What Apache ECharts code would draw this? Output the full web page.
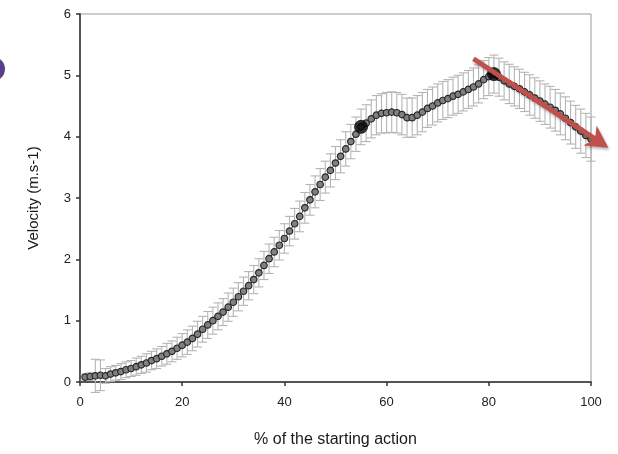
<!DOCTYPE html>
<html>
<head>
<meta charset="utf-8">
<script src="https://cdn.jsdelivr.net/npm/echarts@6/dist/echarts.min.js"></script>
<style>html,body{margin:0;padding:0;background:#fff;}#c{width:618px;height:454px;}</style>
</head>
<body>
<div id="c"></div>
<script>
// % of the starting action
const pct = [];
for (let i = 1; i <= 100; i++) pct.push(i);
// Mean velocity (m.s-1)
const velocity = [
  0.08, 0.09, 0.10, 0.11, 0.10, 0.13, 0.15, 0.17, 0.20, 0.22,
  0.25, 0.28, 0.31, 0.35, 0.38, 0.42, 0.46, 0.50, 0.55, 0.60,
  0.65, 0.71, 0.78, 0.86, 0.93, 1.00, 1.07, 1.14, 1.22, 1.30,
  1.39, 1.48, 1.57, 1.67, 1.78, 1.90, 2.01, 2.12, 2.23, 2.34,
  2.46, 2.58, 2.70, 2.84, 2.97, 3.10, 3.22, 3.34, 3.45, 3.57,
  3.68, 3.80, 3.92, 4.04, 4.16, 4.22, 4.29, 4.35, 4.38, 4.39,
  4.40, 4.39, 4.36, 4.31, 4.31, 4.35, 4.40, 4.46, 4.50, 4.55,
  4.59, 4.62, 4.66, 4.69, 4.73, 4.77, 4.81, 4.86, 4.93, 4.98,
  5.02, 4.97, 4.91, 4.86, 4.82, 4.78, 4.73, 4.68, 4.63, 4.58,
  4.53, 4.48, 4.43, 4.37, 4.30, 4.23, 4.16, 4.09, 4.02, 3.96
];
// Standard deviation (m.s-1)
const sd = [
  0.05, 0.06, 0.27, 0.25, 0.12, 0.12, 0.12, 0.13, 0.13, 0.13,
  0.14, 0.14, 0.15, 0.15, 0.16, 0.16, 0.17, 0.17, 0.18, 0.19,
  0.20, 0.20, 0.21, 0.21, 0.22, 0.22, 0.22, 0.22, 0.23, 0.23,
  0.23, 0.23, 0.23, 0.23, 0.23, 0.23, 0.24, 0.24, 0.24, 0.24,
  0.24, 0.25, 0.25, 0.25, 0.25, 0.26, 0.26, 0.26, 0.27, 0.27,
  0.27, 0.28, 0.28, 0.28, 0.29, 0.30, 0.31, 0.32, 0.32, 0.33,
  0.33, 0.33, 0.33, 0.32, 0.32, 0.32, 0.32, 0.31, 0.31, 0.31,
  0.31, 0.31, 0.31, 0.31, 0.31, 0.31, 0.31, 0.31, 0.31, 0.31,
  0.31, 0.31, 0.31, 0.32, 0.32, 0.32, 0.32, 0.33, 0.33, 0.33,
  0.33, 0.34, 0.34, 0.34, 0.35, 0.35, 0.35, 0.36, 0.36, 0.36
];
// Highlighted instants (% of action)
const keyPoints = [55, 81];
// Axis ticks
const xTicks = [0, 20, 40, 60, 80, 100];
const yTicks = [0, 1, 2, 3, 4, 5, 6];
// Trend arrow annotation [x, y] (data units)
const arrowFrom = [77, 5.27];
const arrowTo = [103.4, 3.82];

const meanData = pct.map((x, i) => [x, velocity[i]]);
const errData = pct.map((x, i) => [x, velocity[i] - sd[i], velocity[i] + sd[i]]);
const keyData = keyPoints.map(x => [x, velocity[pct.indexOf(x)]]);

const chart = echarts.init(document.getElementById('c'));
const font = '"Liberation Sans", Arial, sans-serif';
chart.setOption({
  backgroundColor: '#fff',
  animation: false,
  grid: { left: 80, right: 27, top: 14, bottom: 72, show: true, borderColor: '#9a9a9a', borderWidth: 1 },
  xAxis: {
    type: 'value', min: 0, max: 100, interval: 20,
    name: '% of the starting action', nameLocation: 'middle', nameGap: 50,
    nameTextStyle: { fontFamily: font, fontSize: 16, color: '#1a1a1a' },
    axisLine: { show: true, lineStyle: { color: '#555', width: 2 } },
    axisTick: { show: true, length: 4, lineStyle: { color: '#333', width: 1.5 } },
    axisLabel: { fontFamily: font, fontSize: 13, color: '#222', margin: 14,
      formatter: v => xTicks.includes(v) ? String(v) : '' },
    splitLine: { show: false }
  },
  yAxis: {
    type: 'value', min: 0, max: 6, interval: 1,
    name: 'Velocity (m.s-1)', nameLocation: 'middle', nameGap: 39,
    nameTextStyle: { fontFamily: font, fontSize: 15, color: '#1a1a1a' },
    axisLine: { show: true, lineStyle: { color: '#555', width: 2 } },
    axisTick: { show: true, length: 4, lineStyle: { color: '#333', width: 1.5 } },
    axisLabel: { fontFamily: font, fontSize: 13, color: '#222', margin: 9,
      formatter: v => yTicks.includes(v) ? String(v) : '' },
    splitLine: { show: false }
  },
  series: [
    {
      type: 'custom', z: 1,
      data: errData,
      renderItem: function (params, api) {
        const x = api.value(0);
        const lo = api.coord([x, api.value(1)]);
        const hi = api.coord([x, api.value(2)]);
        const w = 4.5;
        const st = { stroke: '#b5b5b5', lineWidth: 1.1 };
        return { type: 'group', children: [
          { type: 'line', shape: { x1: lo[0], y1: lo[1], x2: hi[0], y2: hi[1] }, style: st },
          { type: 'line', shape: { x1: hi[0] - w, y1: hi[1], x2: hi[0] + w, y2: hi[1] }, style: st },
          { type: 'line', shape: { x1: lo[0] - w, y1: lo[1], x2: lo[0] + w, y2: lo[1] }, style: st }
        ]};
      }
    },
    {
      type: 'line', z: 3, data: meanData,
      symbol: 'circle', symbolSize: 6.5, showAllSymbol: true,
      lineStyle: { color: '#333', width: 1 },
      itemStyle: { color: '#808080', borderColor: '#262626', borderWidth: 1.2 }
    },
    {
      type: 'scatter', z: 4, data: keyData,
      symbol: 'circle', symbolSize: 13,
      itemStyle: { color: '#000', borderColor: '#111', borderWidth: 1 }
    }
  ]
});

// Annotation arrow and side marker
const p0 = chart.convertToPixel({ gridIndex: 0 }, arrowFrom);
const p1 = chart.convertToPixel({ gridIndex: 0 }, arrowTo);
const ang = Math.atan2(p1[1] - p0[1], p1[0] - p0[0]);
const headL = 22, headW = 12;
const bx = p1[0] - headL * Math.cos(ang), by = p1[1] - headL * Math.sin(ang);
const nx = -Math.sin(ang), ny = Math.cos(ang);
const red = '#c0504d';
chart.setOption({
  graphic: [
    { type: 'circle', shape: { cx: -7, cy: 69, r: 12 }, style: { fill: '#5b3f87' }, z: 10 },
    { type: 'line', z: 20,
      shape: { x1: p0[0], y1: p0[1], x2: bx + 6 * Math.cos(ang), y2: by + 6 * Math.sin(ang) },
      style: { stroke: red, lineWidth: 5, shadowBlur: 3, shadowColor: 'rgba(0,0,0,0.3)', shadowOffsetX: 1, shadowOffsetY: 2 } },
    { type: 'polygon', z: 21,
      shape: { points: [
        [p1[0], p1[1]],
        [bx + nx * headW, by + ny * headW],
        [bx + 6 * Math.cos(ang), by + 6 * Math.sin(ang)],
        [bx - nx * headW, by - ny * headW]
      ] },
      style: { fill: red, shadowBlur: 3, shadowColor: 'rgba(0,0,0,0.3)', shadowOffsetX: 1, shadowOffsetY: 2 } }
  ]
});
</script>
</body>
</html>
